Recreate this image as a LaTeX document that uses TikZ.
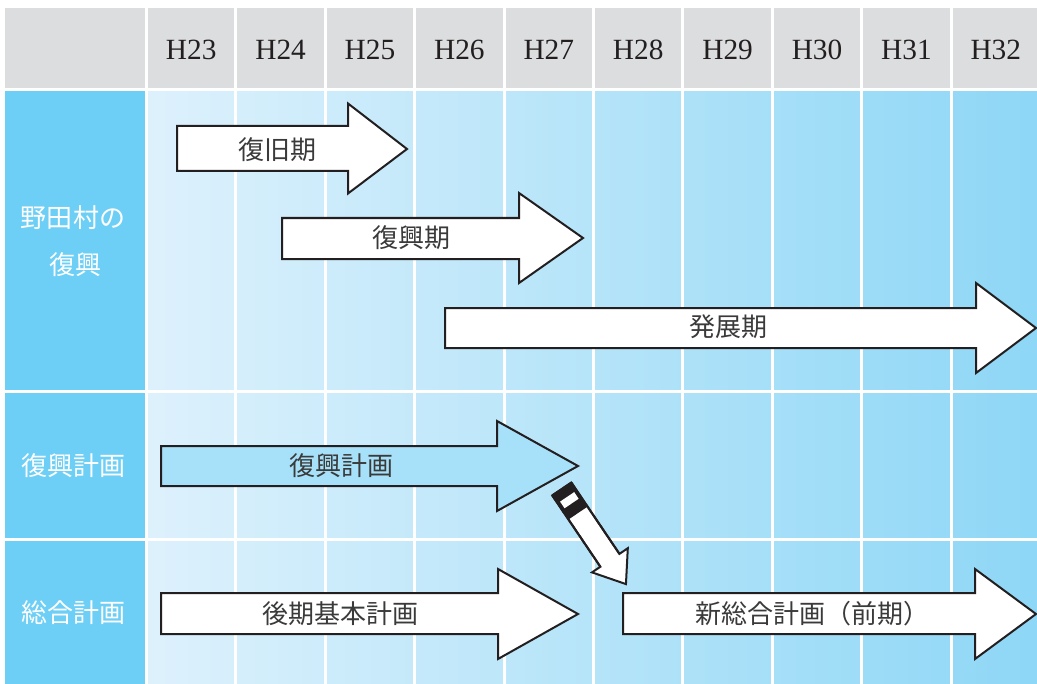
\documentclass[tikz,border=0pt]{standalone}
\usepackage{fontspec}
\newfontfamily\jp{Noto Sans CJK JP}
\newfontfamily\hd{Liberation Serif}
\definecolor{hdgray}{HTML}{DCDDDE}
\definecolor{leftblue}{HTML}{6DCFF6}
\definecolor{gridL}{HTML}{DDF1FC}
\definecolor{gridR}{HTML}{8ED7F6}
\definecolor{planfill}{HTML}{A7E0F9}
\definecolor{ink}{HTML}{231F20}
\definecolor{txt}{HTML}{3A3A3A}
\tikzset{
  gridline/.style={white,line width=2.25pt},
  hdtext/.style={font=\hd\fontsize{22}{24}\selectfont,text=ink,anchor=base,inner sep=0pt},
  lefttext/.style={font=\jp\fontsize{19.5}{22}\selectfont,text=white,inner sep=0pt},
  arrtext/.style={font=\jp\fontsize{19.5}{22}\selectfont,text=txt,inner sep=0pt},
  arrowshape/.style={draw=ink,line width=1.5pt,fill=white,line join=miter},
}
\begin{document}
\begin{tikzpicture}[x=0.75pt,y=-0.75pt]
\useasboundingbox (0,0) rectangle (1037,684);
\fill[white] (0,0) rectangle (1037,684);
% backgrounds
\fill[hdgray] (5,8) rectangle (1037,88);
\fill[leftblue] (5,91) rectangle (145,684);
\shade[left color=gridL,right color=gridR] (148,91) rectangle (1037,684);
% grid lines
\foreach \i in {0,...,9} \draw[gridline] ({146.5+89.4*\i},0) -- ({146.5+89.4*\i},684);
\foreach \yy in {89.5,391.5,539.5} \draw[gridline] (0,\yy) -- (1037,\yy);
% header texts
\foreach \i/\t in {0/H23,1/H24,2/H25,3/H26,4/H27,5/H28,6/H29,7/H30,8/H31,9/H32}
  \node[hdtext] (h\i) at ({146.5+89.4*\i+44.7},60) {\t};
% left column labels
\node[lefttext] (l1a) at (73,218) {野田村の};
\node[lefttext] (l1b) at (75,265) {復興};
\node[lefttext] (l2) at (73.5,466) {復興計画};
\node[lefttext] (l3) at (73.5,613) {総合計画};
% arrows
\draw[arrowshape] (177,126) -- (348,126) -- (348,103.5) -- (407,149) -- (348,193.5) -- (348,171) -- (177,171) -- cycle;
\node[arrtext] (a1) at (277,150) {復旧期};
\draw[arrowshape] (282,218) -- (519,218) -- (519,193) -- (583,238) -- (519,283) -- (519,259) -- (282,259) -- cycle;
\node[arrtext] (a2) at (411,238) {復興期};
\draw[arrowshape] (445,308) -- (976,308) -- (976,283) -- (1036,328) -- (976,373) -- (976,348) -- (445,348) -- cycle;
\node[arrtext] (a3) at (728,327) {発展期};
\draw[arrowshape,fill=planfill] (161,446) -- (497,446) -- (497,421) -- (578,466) -- (497,511) -- (497,486) -- (161,486) -- cycle;
\node[arrtext] (a4) at (341,466) {復興計画};
\draw[arrowshape] (161,593) -- (498,593) -- (498,569) -- (578,614) -- (498,659) -- (498,634) -- (161,634) -- cycle;
\node[arrtext] (a5) at (340,614) {後期基本計画};
\draw[arrowshape] (623,593) -- (975,593) -- (975,569) -- (1036,614) -- (975,659) -- (975,634) -- (623,634) -- cycle;
\node[arrtext] (a6) at (812,614) {新総合計画（前期）};
% diagonal transfer arrow
\begin{scope}[shift={(561.8,489)},rotate=-56]
  \draw[arrowshape] (0,-11.5) -- (86,-11.5) -- (86,-21.6) -- (114.7,0) -- (86,21.6) -- (86,11.5) -- (0,11.5) -- cycle;
  \fill[ink] (0,-11.5) rectangle (29,11.5);
  \fill[white] (9.5,-8.5) rectangle (17.5,8.5);
  \draw[ink,line width=1.5pt,line join=miter] (0,-11.5) -- (86,-11.5) (0,11.5) -- (86,11.5) (0,-11.5) -- (0,11.5);
\end{scope}
\end{tikzpicture}
\end{document}
